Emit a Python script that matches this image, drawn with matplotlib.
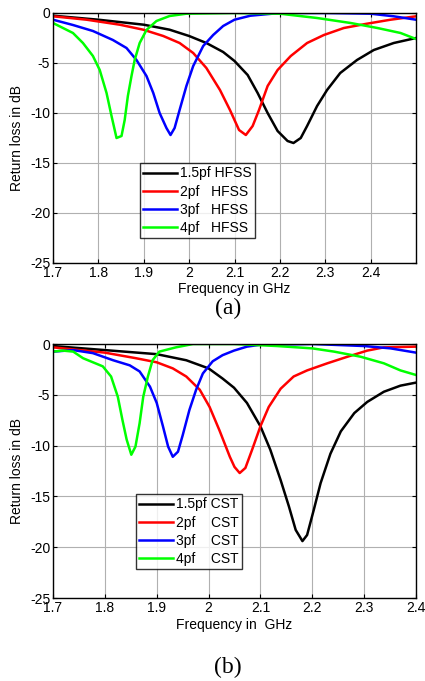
import matplotlib
matplotlib.use("Agg")
import matplotlib.pyplot as plt

plt.rcParams['font.family'] = ['Liberation Sans', 'DejaVu Sans']
plt.rcParams['axes.unicode_minus'] = False

# ---------------- (a) HFSS ----------------
f_a_15 = [1.70, 1.80, 1.90, 1.957, 2.00, 2.038, 2.075, 2.10, 2.129, 2.151, 2.173, 2.195, 2.217, 2.23,
          2.246, 2.26, 2.282, 2.304, 2.333, 2.37, 2.407, 2.451, 2.50]
s_a_15 = [-0.27, -0.67, -1.17, -1.67, -2.3, -3.0, -3.9, -4.8, -6.2, -8.0, -10.0, -11.8, -12.8, -13.0,
          -12.5, -11.3, -9.3, -7.7, -6.0, -4.7, -3.7, -3.0, -2.5]

f_a_2 = [1.70, 1.774, 1.847, 1.899, 1.943, 1.979, 2.009, 2.038, 2.068, 2.09, 2.10, 2.11, 2.125, 2.14,
         2.154, 2.173, 2.195, 2.224, 2.26, 2.297, 2.341, 2.392, 2.444, 2.50]
s_a_2 = [-0.33, -0.67, -1.17, -1.67, -2.3, -3.0, -4.0, -5.5, -7.7, -9.7, -10.7, -11.7, -12.2, -11.3,
         -9.7, -7.3, -5.7, -4.3, -3.0, -2.2, -1.5, -1.07, -0.67, -0.33]

f_a_3 = [1.70, 1.744, 1.788, 1.832, 1.862, 1.884, 1.906, 1.921, 1.935, 1.95, 1.959, 1.968, 1.979, 1.994,
         2.009, 2.031, 2.053, 2.075, 2.10, 2.135, 2.20, 2.30, 2.40, 2.451, 2.50]
s_a_3 = [-0.67, -1.2, -1.8, -2.7, -3.5, -4.7, -6.3, -8.0, -10.0, -11.5, -12.2, -11.5, -9.7, -7.3,
         -5.3, -3.3, -2.2, -1.3, -0.67, -0.27, 0.0, 0.0, -0.07, -0.33, -0.67]

f_a_4 = [1.70, 1.722, 1.744, 1.766, 1.788, 1.803, 1.818, 1.829, 1.84, 1.851, 1.858, 1.865, 1.873, 1.88,
         1.891, 1.906, 1.928, 1.957, 1.994, 2.10, 2.20, 2.282, 2.356, 2.415, 2.466, 2.50]
s_a_4 = [-1.0, -1.5, -2.0, -3.0, -4.3, -5.7, -8.0, -10.3, -12.5, -12.3, -10.7, -8.3, -6.3, -4.7,
         -3.0, -1.7, -0.8, -0.3, -0.07, 0.0, -0.07, -0.5, -1.0, -1.5, -2.0, -2.6]

# ---------------- (b) CST ----------------
f_b_15 = [1.70, 1.80, 1.90, 1.957, 2.00, 2.027, 2.049, 2.074, 2.10, 2.119, 2.139, 2.155, 2.168, 2.181,
          2.19, 2.203, 2.216, 2.235, 2.255, 2.281, 2.306, 2.338, 2.37, 2.40]
s_b_15 = [-0.2, -0.6, -1.0, -1.6, -2.4, -3.4, -4.3, -5.8, -8.1, -10.4, -13.4, -16.0, -18.3, -19.4,
          -18.8, -16.3, -13.7, -10.8, -8.6, -6.8, -5.7, -4.7, -4.1, -3.8]

f_b_2 = [1.70, 1.80, 1.86, 1.90, 1.931, 1.957, 1.983, 2.002, 2.021, 2.041, 2.05, 2.06, 2.071, 2.084,
         2.10, 2.116, 2.139, 2.164, 2.19, 2.229, 2.268, 2.306, 2.338, 2.40]
s_b_2 = [-0.33, -0.85, -1.4, -1.8, -2.4, -3.2, -4.5, -6.2, -8.5, -11.1, -12.1, -12.7, -12.2, -10.4,
         -8.1, -6.2, -4.4, -3.2, -2.6, -1.9, -1.25, -0.65, -0.33, -0.26]

f_b_3 = [1.70, 1.739, 1.777, 1.816, 1.848, 1.867, 1.887, 1.90, 1.912, 1.922, 1.931, 1.941, 1.95, 1.963,
         1.976, 1.989, 2.008, 2.027, 2.049, 2.074, 2.10, 2.20, 2.30, 2.351, 2.40]
s_b_3 = [-0.75, -0.6, -0.9, -1.6, -2.1, -2.7, -4.2, -5.8, -8.1, -10.1, -11.1, -10.6, -9.0, -6.5,
         -4.5, -2.9, -1.7, -1.1, -0.65, -0.26, -0.07, 0.0, -0.2, -0.43, -0.85]

f_b_4 = [1.70, 1.719, 1.739, 1.758, 1.777, 1.796, 1.812, 1.825, 1.834, 1.842, 1.851, 1.859, 1.867, 1.874,
         1.883, 1.892, 1.905, 1.937, 1.97, 2.049, 2.132, 2.20, 2.242, 2.293, 2.338, 2.37, 2.40]
s_b_4 = [-0.75, -0.65, -0.75, -1.4, -1.8, -2.2, -3.2, -5.2, -7.5, -9.4, -10.9, -10.1, -7.8, -5.2,
         -3.2, -1.6, -0.75, -0.33, 0.0, 0.0, -0.2, -0.43, -0.75, -1.25, -1.9, -2.6, -3.05]

labels_a = ['1.5pf HFSS', '2pf   HFSS', '3pf   HFSS', '4pf   HFSS']
labels_b = ['1.5pf CST', '2pf    CST', '3pf    CST', '4pf    CST']
colors = ['#000000', '#FF0000', '#0000FF', '#00FF00']

yticks = [0, -5, -10, -15, -20, -25]
xticks_a = [1.7, 1.8, 1.9, 2.0, 2.1, 2.2, 2.3, 2.4]
xtick_labels_a = ['1.7', '1.8', '1.9', '2', '2.1', '2.2', '2.3', '2.4']
xticks_b = [1.7, 1.8, 1.9, 2.0, 2.1, 2.2, 2.3, 2.4]
xtick_labels_b = ['1.7', '1.8', '1.9', '2', '2.1', '2.2', '2.3', '2.4']

W, H = 425, 681
fig = plt.figure(figsize=(W / 100, H / 100), dpi=100)

def axes_px(l, t, r, b):
    return fig.add_axes([l / W, 1 - b / H, (r - l) / W, (b - t) / H])

ax1 = axes_px(53, 13, 416, 263)
ax2 = axes_px(53, 344, 416, 598)

FS = 10

def style(ax, xticks, xtl, xlim):
    ax.set_xlim(*xlim)
    ax.set_ylim(-25, 0)
    ax.set_xticks(xticks)
    ax.set_xticklabels(xtl)
    ax.set_yticks(yticks)
    ax.set_yticklabels([str(v) for v in yticks])
    ax.grid(True, color='#b0b0b0', linewidth=0.8)
    ax.tick_params(direction='in', top=True, right=True, labelsize=FS, pad=2, length=3, width=0.8)
    for s in ax.spines.values():
        s.set_linewidth(1.0)
        s.set_color('black')
    ax.set_axisbelow(True)

series_a = [(f_a_15, s_a_15), (f_a_2, s_a_2), (f_a_3, s_a_3), (f_a_4, s_a_4)]
series_b = [(f_b_15, s_b_15), (f_b_2, s_b_2), (f_b_3, s_b_3), (f_b_4, s_b_4)]

for (f, s), c, lab in zip(series_a, colors, labels_a):
    ax1.plot(f, s, color=c, linewidth=1.8, label=lab, solid_joinstyle='round')
for (f, s), c, lab in zip(series_b, colors, labels_b):
    ax2.plot(f, s, color=c, linewidth=1.8, label=lab, solid_joinstyle='round')

style(ax1, xticks_a, xtick_labels_a, (1.7, 2.5))
style(ax2, xticks_b, xtick_labels_b, (1.7, 2.4))

for ax, lab in [(ax1, 'Frequency in GHz'), (ax2, 'Frequency in  GHz')]:
    ax.set_xlabel(lab, fontsize=FS)
    ax.set_ylabel('Return loss in dB', fontsize=FS)
    ax.yaxis.set_label_coords(-0.08, 0.5)

ax1.xaxis.set_label_coords(0.5, -0.104)
ax2.xaxis.set_label_coords(0.5, -0.106)
ax1.xaxis.label.set_va('center')
ax2.xaxis.label.set_va('center')

leg_kw = dict(fontsize=FS, frameon=True, fancybox=False, edgecolor='black',
              handlelength=2.4, handletextpad=0.2, borderpad=0.25, labelspacing=0.3,
              borderaxespad=0)
l1 = ax1.legend(loc='upper left', bbox_to_anchor=((140 - 53) / 363, (263 - 163) / 250), **leg_kw)
l2 = ax2.legend(loc='upper left', bbox_to_anchor=((136 - 53) / 363, (598 - 494) / 254), **leg_kw)
for l in (l1, l2):
    l.get_frame().set_linewidth(1.0)

fig.text(228 / W, 1 - 308 / H, '(a)', ha='center', va='center', fontsize=17,
         family=['Liberation Serif', 'DejaVu Serif'])
fig.text(228 / W, 1 - 667 / H, '(b)', ha='center', va='center', fontsize=17,
         family=['Liberation Serif', 'DejaVu Serif'])

fig.savefig('out.png', dpi=100)
